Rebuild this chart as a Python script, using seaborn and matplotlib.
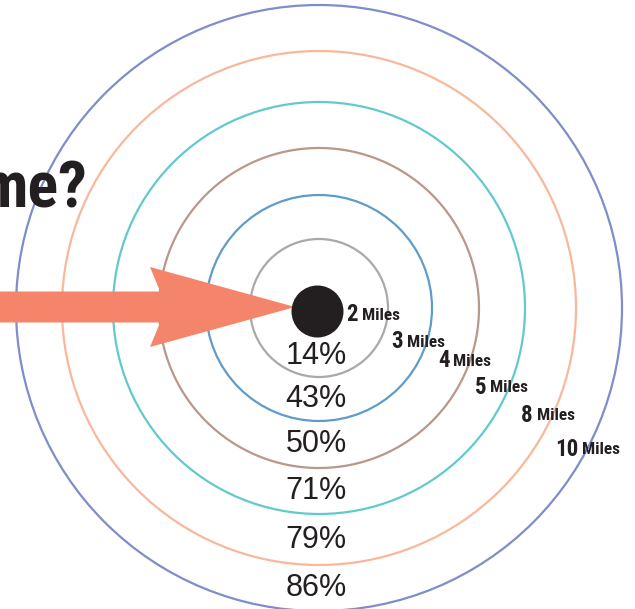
import matplotlib
matplotlib.use("Agg")
import matplotlib.pyplot as plt
from matplotlib import font_manager as fm
from matplotlib.patches import Circle, FancyArrow
import numpy as np
import seaborn as sns

# Distance rings (miles) and the share of trips falling inside each ring
miles = [2, 3, 4, 5, 8, 10]
shares = [14, 43, 50, 71, 79, 86]
ring_colors = ["#a9a9ac", "#5f9cc9", "#b9978b", "#62c9cf", "#f9b89b", "#7f8dc9"]

# Layout: ring radii (px), centre, label placement
ring_radii = [69, 113, 160, 206, 257, 303]
center = (319, 308)
dot_radius = 26
label_angle = [14, 25, 24, 27, 28, 31]
label_dist = [28, 80, 130, 175, 229, 275]

INK = "#231f20"
ARROW = "#f4846a"


def narrow_font():
    """Return (family, stretch) for the narrowest bold sans available."""
    for fam in ["Liberation Sans Narrow", "Roboto Condensed", "Open Sans Condensed",
                "DejaVu Sans Condensed"]:
        try:
            fm.findfont(fm.FontProperties(family=fam, weight="bold"),
                        fallback_to_default=False)
            return fam, "normal"
        except ValueError:
            pass
    for fam in ["DejaVu Sans", "Noto Sans", "Open Sans"]:
        try:
            path = fm.findfont(fm.FontProperties(family=fam, weight="bold",
                                                 stretch="condensed"),
                               fallback_to_default=False)
            if "ondensed" in path or "arrow" in path:
                return fam, "condensed"
        except ValueError:
            pass
    for fam in ["Roboto", "Liberation Sans"]:
        try:
            fm.findfont(fm.FontProperties(family=fam, weight="bold"),
                        fallback_to_default=False)
            return fam, "normal"
        except ValueError:
            pass
    return "DejaVu Sans", "normal"


sns.set_theme(style="white")
NARROW, STRETCH = narrow_font()
narrow = [NARROW, "DejaVu Sans"]
regular = ["Liberation Sans", "DejaVu Sans"]

fig = plt.figure(figsize=(6.35, 6.09), dpi=100)
ax = fig.add_axes([0, 0, 1, 1])

cx, cy = center

# Concentric rings
for r, c in zip(ring_radii, ring_colors):
    ax.add_patch(Circle((cx, cy), r, fill=False, edgecolor=c, lw=1.6, zorder=2))

# Arrow pointing at home
ax.add_patch(FancyArrow(0, 307, 295, 0, width=31, head_width=80,
                        head_length=145, overhang=0.07,
                        length_includes_head=True, color=ARROW, lw=0, zorder=3))

# Home dot
marker_pts = 2 * dot_radius * 72 / fig.dpi
sns.scatterplot(x=[cx - 2], y=[cy + 3], s=marker_pts ** 2, color=INK, linewidth=0,
                ax=ax, zorder=4, legend=False)
ax.set_xlim(0, 635)
ax.set_ylim(609, 0)
ax.axis("off")

# Share labels centred in each band
inner = [dot_radius] + ring_radii[:-1]
for r_in, r_out, s in zip(inner, ring_radii, shares):
    ax.text(cx - 3, cy + (r_in + r_out) / 2, f"{s}%", ha="center", va="center",
            fontsize=22, color=INK, family=regular, zorder=5)

# Mile labels along a diagonal
for m, ang, d in zip(miles, label_angle, label_dist):
    a = np.deg2rad(ang)
    x = cx + d * np.cos(a)
    y = cy + d * np.sin(a)
    num = ax.text(x, y, f"{m}", ha="left", va="center", fontsize=16.5,
                  fontweight="bold", fontstretch=STRETCH, color=INK,
                  family=narrow, zorder=5)
    ax.annotate(" Miles", xy=(1, 0.16), xycoords=num, ha="left", va="bottom",
                fontsize=12.5, fontweight="bold", fontstretch=STRETCH, color=INK,
                family=narrow, zorder=5)

# Headline (runs off the left edge)
ax.text(88, 208, "me?", ha="right", va="baseline", fontsize=46,
        fontweight="heavy", fontstretch=STRETCH, color=INK, family=narrow,
        zorder=5)

fig.savefig("out.png", dpi=100)
